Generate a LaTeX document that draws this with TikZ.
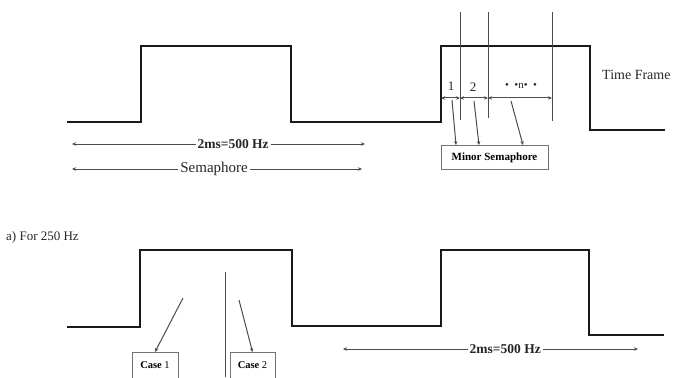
\documentclass[tikz,border=0pt]{standalone}
\usepackage{fontspec}
\setmainfont{Liberation Serif}
\usetikzlibrary{arrows.meta}
\begin{document}
\begin{tikzpicture}[x=1pt,y=-1pt,
  wave/.style={line width=2.6pt,draw=black!90,line join=miter},
  thin/.style={line width=1pt,draw=black!70},
  dim/.style={thin,{Stealth[length=4pt,width=3.5pt]}-{Stealth[length=4pt,width=3.5pt]}},
  ptr/.style={thin,-{Stealth[length=4pt,width=3.5pt]}},
  lbl/.style={fill=white,inner sep=2pt,text=black!85},
  tbox/.style={draw=black!55,line width=0.8pt,fill=white,inner sep=3pt,font=\fontsize{11}{12}\selectfont\bfseries}]
\useasboundingbox (0,0) rectangle (676,377);
% top waveform
\draw[wave] (67,122) -- (141,122) -- (141,46) -- (291,46) -- (291,122) -- (441,122) -- (441,46) -- (590,46) -- (590,130) -- (665,130);
% bottom waveform
\draw[wave] (67,327) -- (140,327) -- (140,250) -- (292,250) -- (292,326) -- (441,326) -- (441,250) -- (589,250) -- (589,335) -- (664,335);
% top vertical markers
\coordinate (v1t) at (460,12); \coordinate (v1b) at (460,120);
\coordinate (v2t) at (488,12); \coordinate (v2b) at (488,118);
\coordinate (v3t) at (552,12); \coordinate (v3b) at (552,121);
\draw[thin] (v1t) -- (v1b);
\draw[thin] (v2t) -- (v2b);
\draw[thin] (v3t) -- (v3b);
% segment dimension line
\coordinate (s0) at (441,98); \coordinate (s1) at (460,98);
\coordinate (s2) at (488,98); \coordinate (s3) at (552,98);
\draw[dim] (s0) -- (s1);
\draw[dim] (s1) -- (s2);
\draw[dim] (s2) -- (s3);
\node[font=\fontsize{13}{14}\selectfont,text=black!85] (n1) at (451,86) {1};
\node[font=\fontsize{13}{14}\selectfont,text=black!85] (n2) at (473,87) {2};
\node[font=\fontsize{11}{12}\selectfont,text=black!85] (nn) at (521,86) {•\ \ •n•\ \ •};
\node[font=\fontsize{14}{15}\selectfont,anchor=west,text=black!85,inner sep=0pt] (tf) at (602,75) {Time Frame};
% minor semaphore
\node[tbox,minimum width=107pt,minimum height=24pt] (ms) at (494.5,157.5) {Minor Semaphore};
\coordinate (p1) at (452,100); \coordinate (p2) at (474,101); \coordinate (p3) at (511,101);
\draw[ptr] (p1) -- (ms.north west -| 456,0);
\draw[ptr] (p2) -- (ms.north -| 479,0);
\draw[ptr] (p3) -- (ms.north -| 523,0);
% top dimension arrows
\coordinate (a1l) at (72,144); \coordinate (a1r) at (365,144);
\draw[dim] (a1l) -- (a1r) node[lbl,pos=0.55,font=\fontsize{13.5}{14}\selectfont\bfseries] (t1) {2ms=500 Hz};
\coordinate (a2l) at (72,169); \coordinate (a2r) at (362,169);
\draw[dim] (a2l) -- (a2r) node[lbl,pos=0.49,font=\fontsize{15}{16}\selectfont] (t2) {Semaphore};
% caption
\node[anchor=west,font=\fontsize{13}{14}\selectfont,text=black!85,inner sep=0pt] (cap) at (6,237) {a) For 250 Hz};
% bottom marker and cases
\coordinate (vbt) at (225,272); \coordinate (vbb) at (225,377);
\draw[thin] (vbt) -- (vbb);
\node[tbox,anchor=north,minimum width=46pt,minimum height=26pt,font=\fontsize{10.5}{12}\selectfont] (c1) at (155,352) {\textbf{Case} 1};
\node[tbox,anchor=north,minimum width=45pt,minimum height=26pt,font=\fontsize{10.5}{12}\selectfont] (c2) at (252.5,352) {\textbf{Case} 2};
\coordinate (q1) at (183,298); \coordinate (q2) at (239,300);
\draw[ptr] (q1) -- (c1.north);
\draw[ptr] (q2) -- (c2.north);
% bottom dimension arrow
\coordinate (a3l) at (343,349); \coordinate (a3r) at (638,349);
\draw[dim] (a3l) -- (a3r) node[lbl,pos=0.55,font=\fontsize{13.5}{14}\selectfont\bfseries] (t3) {2ms=500 Hz};
\end{tikzpicture}
\end{document}
